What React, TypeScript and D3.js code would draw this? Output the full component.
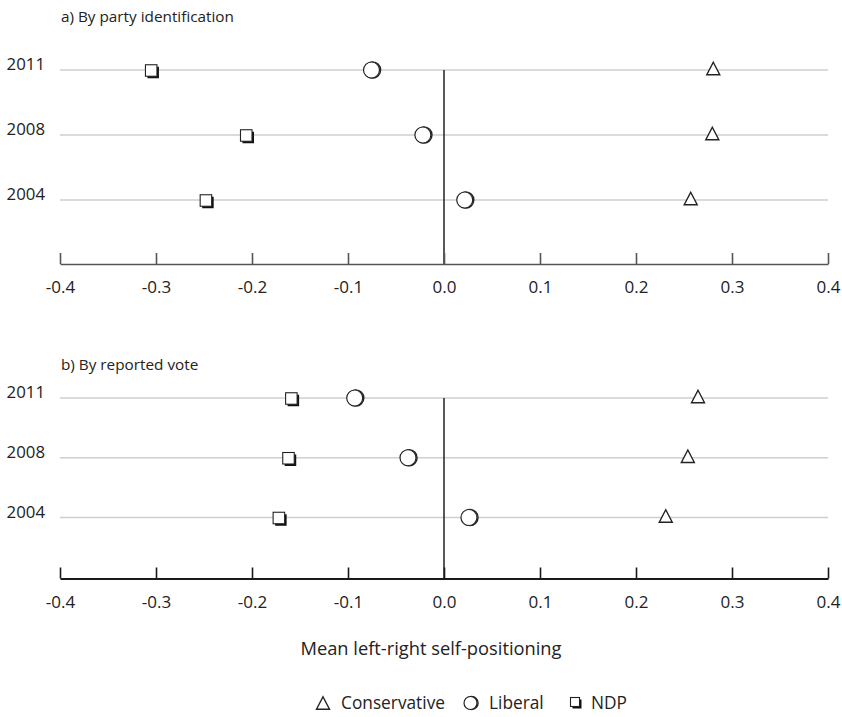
import { useEffect, useRef } from 'react';
import * as d3 from 'd3';

// years top to bottom
const years = ['2011', '2008', '2004'];
const tickValues = [-0.4, -0.3, -0.2, -0.1, 0.0, 0.1, 0.2, 0.3, 0.4];

// a) by party identification
const partyConservative = [0.2805, 0.2795, 0.257];
const partyLiberal = [-0.0755, -0.022, 0.0216];
const partyNDP = [-0.305, -0.206, -0.248];

// b) by reported vote
const voteConservative = [0.2646, 0.254, 0.231];
const voteLiberal = [-0.093, -0.0375, 0.026];
const voteNDP = [-0.159, -0.162, -0.172];

const legendLabels = ['Conservative', 'Liberal', 'NDP'];
const FONT = '"Open Sans", "Noto Sans", sans-serif';

function drawTriangle(g, cx, cy) {
    const s = 13;
    const h = 11.5;
    g.append('path')
        .attr('d', `M${cx},${cy - h / 2 - 1} L${cx + s / 2},${cy + h / 2} L${cx - s / 2},${cy + h / 2} Z`)
        .attr('fill', 'white')
        .attr('stroke', '#222')
        .attr('stroke-width', 1.4)
        .attr('stroke-linejoin', 'miter');
}

function drawCircle(g, cx, cy, r) {
    g.append('circle')
        .attr('cx', cx + 1.1).attr('cy', cy)
        .attr('r', r)
        .attr('fill', 'none')
        .attr('stroke', '#222')
        .attr('stroke-width', 1.4);
    g.append('circle')
        .attr('cx', cx).attr('cy', cy)
        .attr('r', r)
        .attr('fill', 'white')
        .attr('stroke', '#222')
        .attr('stroke-width', 1.2);
}

function drawSquare(g, cx, cy, s) {
    g.append('rect')
        .attr('x', cx - s / 2 + 2).attr('y', cy - s / 2 + 2)
        .attr('width', s).attr('height', s)
        .attr('fill', '#111');
    g.append('rect')
        .attr('x', cx - s / 2).attr('y', cy - s / 2)
        .attr('width', s).attr('height', s)
        .attr('fill', 'white')
        .attr('stroke', '#222')
        .attr('stroke-width', 1.1);
}

export default function App() {
    const ref = useRef(null);

    useEffect(() => {
        const svg = d3.select(ref.current);
        svg.selectAll('*').remove();

        const x = d3.scaleLinear().domain([-0.4, 0.4]).range([60, 828]);

        const panels = [
            { title: 'a) By party identification', titleY: 22, top: 70, bottom: 200, axisY: 264, axisColor: '#555', axisWidth: 1.6,
              con: partyConservative, lib: partyLiberal, ndp: partyNDP },
            { title: 'b) By reported vote', titleY: 370, top: 398, bottom: 517.5, axisY: 578.5, axisColor: '#1a1a1a', axisWidth: 2,
              con: voteConservative, lib: voteLiberal, ndp: voteNDP },
        ];

        panels.forEach(p => {
            const y = d3.scalePoint().domain(years).range([p.top, p.bottom]);
            const g = svg.append('g');

            g.append('text')
                .attr('x', 61).attr('y', p.titleY)
                .attr('font-size', 15.3)
                .attr('fill', '#222')
                .text(p.title);

            // gridlines
            g.selectAll('line.grid')
                .data(years)
                .enter()
                .append('line')
                .attr('x1', x(-0.4)).attr('x2', x(0.4))
                .attr('y1', d => y(d)).attr('y2', d => y(d))
                .attr('stroke', '#cfcfcf')
                .attr('stroke-width', 1.5);

            g.selectAll('text.year')
                .data(years)
                .enter()
                .append('text')
                .attr('x', 45).attr('y', d => y(d))
                .attr('text-anchor', 'end')
                .attr('font-size', 16.8)
                .attr('fill', '#222')
                .text(d => d);

            // zero line
            g.append('line')
                .attr('x1', x(0)).attr('x2', x(0))
                .attr('y1', p.top).attr('y2', p.axisY)
                .attr('stroke', '#222')
                .attr('stroke-width', 1.5);

            // axis
            const axis = d3.axisTop(x)
                .tickValues(tickValues)
                .tickSize(11)
                .tickSizeOuter(0)
                .tickFormat(d3.format('.1f'));
            const ag = g.append('g')
                .attr('transform', `translate(0,${p.axisY})`)
                .call(axis);
            ag.select('.domain').attr('stroke', p.axisColor).attr('stroke-width', p.axisWidth);
            ag.selectAll('.tick line').attr('stroke', p.axisColor).attr('stroke-width', 1.6);
            ag.selectAll('.tick text')
                .attr('y', 29)
                .attr('dy', 0)
                .attr('font-size', 17)
                .attr('font-family', FONT)
                .attr('fill', '#222')
                .text(d => d3.format('.1f')(d).replace('−', '-'));

            years.forEach((yr, i) => {
                const cy = y(yr);
                drawSquare(g, x(p.ndp[i]), cy + 0.5, 11.5);
                drawCircle(g, x(p.lib[i]), cy, 8);
                drawTriangle(g, x(p.con[i]), cy - 1);
            });
        });

        svg.append('text')
            .attr('x', 431).attr('y', 655)
            .attr('text-anchor', 'middle')
            .attr('font-size', 18.3)
            .attr('fill', '#222')
            .text('Mean left-right self-positioning');

        // legend
        const lg = svg.append('g');
        const ly = 703;
        drawTriangle(lg, 323, ly + 0.5);
        drawCircle(lg, 470.5, ly, 6.5);
        drawSquare(lg, 575, ly - 1, 9);
        const lx = [341, 489, 591];
        legendLabels.forEach((t, i) => {
            lg.append('text')
                .attr('x', lx[i]).attr('y', ly + 6)
                .attr('font-size', 17.3)
                .attr('fill', '#222')
                .text(t);
        });
    }, []);

    return (
        <svg
            ref={ref}
            width={842}
            height={717}
            style={{ position: 'absolute', left: 0, top: 0, display: 'block', fontFamily: FONT, background: 'white' }}
        />
    );
}
